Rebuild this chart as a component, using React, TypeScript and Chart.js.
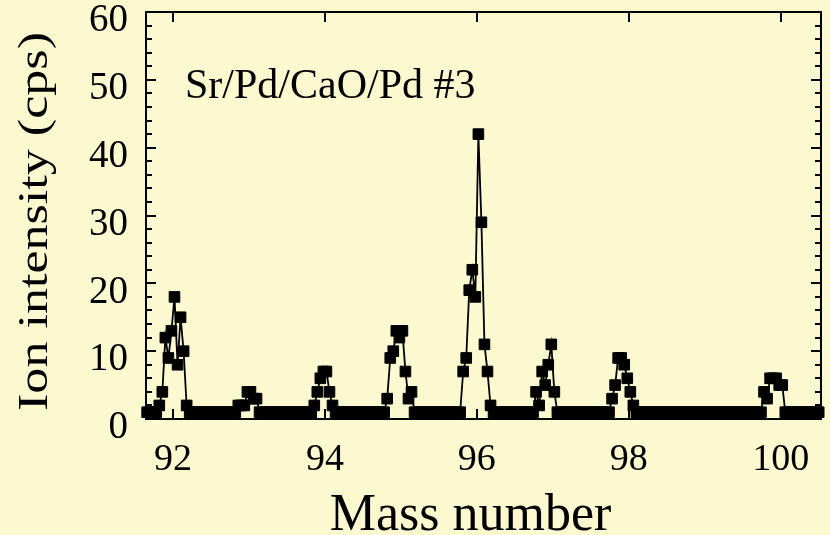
import React, { useEffect, useRef } from "react";
import { Chart, registerables } from "chart.js";

Chart.register(...registerables);

// Mass scan: first mass, step between successive readings
const scanStartMass = 91.66;
const scanStepMass = 0.04;

// Ion counts (cps) read at each scan step, from 91.66 to 100.50
const ionCounts = [
  1, 1, 1, 1,
  2, 4, 12, 9, 13, 18, 8, 15, 10, 2, // 92
  1, 1, 1, 1, 1, 1, 1, 1, 1, 1, 1, 1, 1, 1, 1, 1,
  2, 2, 2, 4, 4, 3, 3, // 93
  1, 1, 1, 1, 1, 1, 1, 1, 1, 1, 1, 1, 1, 1, 1, 1, 1, 1,
  2, 4, 6, 7, 7, 4, 2, // 94
  1, 1, 1, 1, 1, 1, 1, 1, 1, 1, 1, 1, 1, 1, 1, 1, 1,
  3, 9, 10, 13, 12, 13, 7, 3, 4, // 95
  1, 1, 1, 1, 1, 1, 1, 1, 1, 1, 1, 1, 1, 1, 1, 1,
  7, 9, 19, 22, 18, 42, 29, 11, 7, 2, // 96
  1, 1, 1, 1, 1, 1, 1, 1, 1, 1, 1, 1, 1, 1,
  4, 2, 7, 5, 8, 11, 4, // 97
  1, 1, 1, 1, 1, 1, 1, 1, 1, 1, 1, 1, 1, 1, 1, 1, 1, 1,
  3, 5, 9, 9, 8, 6, 4, 2, // 98
  1, 1, 1, 1, 1, 1, 1, 1, 1, 1, 1, 1, 1, 1, 1, 1, 1, 1, 1, 1, 1,
  1, 1, 1, 1, 1, 1, 1, 1, 1, 1, 1, 1, 1, 1, 1, 1, 1, 1, 1, 1, 1,
  4, 3, 6, 6, 6, 5, 5, // 100
  1, 1, 1, 1, 1, 1, 1, 1, 1, 1, 1, 1,
];

const massTicks = [92, 94, 96, 98, 100];
const intensityTicks = [0, 10, 20, 30, 40, 50, 60];
const intensityMinorStep = 2;
const sampleName = "Sr/Pd/CaO/Pd #3";
const xTitle = "Mass number";
const yTitle = "Ion intensity (cps)";

const BG = "#FCF8D0";
const FONT = "'Liberation Serif', 'Times New Roman', serif";

export default function App() {
  const ref = useRef<HTMLCanvasElement>(null);

  useEffect(() => {
    const points = ionCounts.map((c, i) => ({
      x: +(scanStartMass + i * scanStepMass).toFixed(2),
      y: c,
    }));

    const decor = {
      id: "decor",
      beforeDraw(chart: any) {
        const ctx = chart.ctx;
        ctx.save();
        ctx.fillStyle = BG;
        ctx.fillRect(0, 0, chart.width, chart.height);
        ctx.restore();
      },
      beforeDatasetsDraw(chart: any) {
        const ctx = chart.ctx;
        const { left, right, top, bottom } = chart.chartArea;
        const xs = chart.scales.x;
        const ys = chart.scales.y;
        ctx.save();
        ctx.strokeStyle = "#000";
        ctx.lineWidth = 2;
        ctx.beginPath();
        ctx.rect(left, top, right - left, bottom - top);
        ctx.stroke();
        ctx.beginPath();
        for (let v = 0; v <= 60; v += intensityMinorStep) {
          const y = Math.round(ys.getPixelForValue(v));
          const len = v % 10 === 0 ? 10 : 6;
          ctx.moveTo(left, y);
          ctx.lineTo(left + len, y);
          ctx.moveTo(right, y);
          ctx.lineTo(right - len, y);
        }
        for (const m of massTicks) {
          const x = Math.round(xs.getPixelForValue(m));
          ctx.moveTo(x, top);
          ctx.lineTo(x, top + 10);
          ctx.moveTo(x, bottom);
          ctx.lineTo(x, bottom - 10);
        }
        ctx.stroke();
        ctx.restore();
      },
      afterDraw(chart: any) {
        const ctx = chart.ctx;
        const { left, right, top, bottom } = chart.chartArea;
        ctx.save();
        ctx.fillStyle = "#000";
        // x title
        ctx.font = `52px ${FONT}`;
        ctx.textAlign = "center";
        ctx.textBaseline = "alphabetic";
        ctx.fillText(xTitle, (left + right) / 2 - 13, chart.height - 5);
        // sample label
        ctx.font = `42px ${FONT}`;
        ctx.textAlign = "left";
        ctx.fillText(sampleName, left + 39, top + 86);
        // y title (rotated)
        ctx.save();
        ctx.translate(47, (top + bottom) / 2 + 6);
        ctx.rotate(-Math.PI / 2);
        ctx.scale(1.24, 1);
        ctx.font = `42px ${FONT}`;
        ctx.textAlign = "center";
        ctx.textBaseline = "alphabetic";
        ctx.fillText(yTitle, 0, 0);
        ctx.restore();
        ctx.restore();
      },
    };

    const chart = new Chart(ref.current as HTMLCanvasElement, {
      type: "scatter",
      data: {
        datasets: [
          {
            data: points,
            showLine: true,
            borderColor: "#000",
            borderWidth: 1.8,
            pointStyle: "rect",
            pointRadius: 7.5,
            pointBackgroundColor: "#000",
            pointBorderColor: "#000",
            pointBorderWidth: 1,
            clip: false,
          } as any,
        ],
      },
      options: {
        responsive: false,
        animation: false,
        events: [],
        layout: { padding: { top: 12, right: 9, left: 0, bottom: 0 } },
        plugins: {
          legend: { display: false },
          tooltip: { enabled: false },
        },
        scales: {
          x: {
            type: "linear",
            min: 91.645,
            max: 100.53,
            afterBuildTicks: (s: any) => {
              s.ticks = massTicks.map((v) => ({ value: v }));
            },
            afterFit: (s: any) => {
              s.height = 116;
              s.paddingLeft = 0;
              s.paddingRight = 0;
            },
            grid: { display: false, drawTicks: false },
            border: { display: false },
            ticks: {
              font: { family: FONT, size: 38 },
              color: "#000",
              padding: 18,
              maxRotation: 0,
              autoSkip: false,
              callback: (v: any) => String(v),
            },
          },
          y: {
            type: "linear",
            min: 0,
            max: 60,
            afterBuildTicks: (s: any) => {
              s.ticks = intensityTicks.map((v) => ({ value: v }));
            },
            afterFit: (s: any) => {
              s.width = 146;
              s.paddingTop = 0;
              s.paddingBottom = 0;
            },
            grid: { display: false, drawTicks: false },
            border: { display: false },
            ticks: {
              font: { family: FONT, size: 39 },
              color: "#000",
              padding: 18,
              labelOffset: 9,
              autoSkip: false,
              callback: (v: any) => String(v),
            },
          },
        },
      },
      plugins: [decor],
    });
    return () => chart.destroy();
  }, []);

  return (
    <div style={{ position: "absolute", left: 0, top: 0, width: 830, height: 535 }}>
      <canvas ref={ref} width={830} height={535} />
    </div>
  );
}
